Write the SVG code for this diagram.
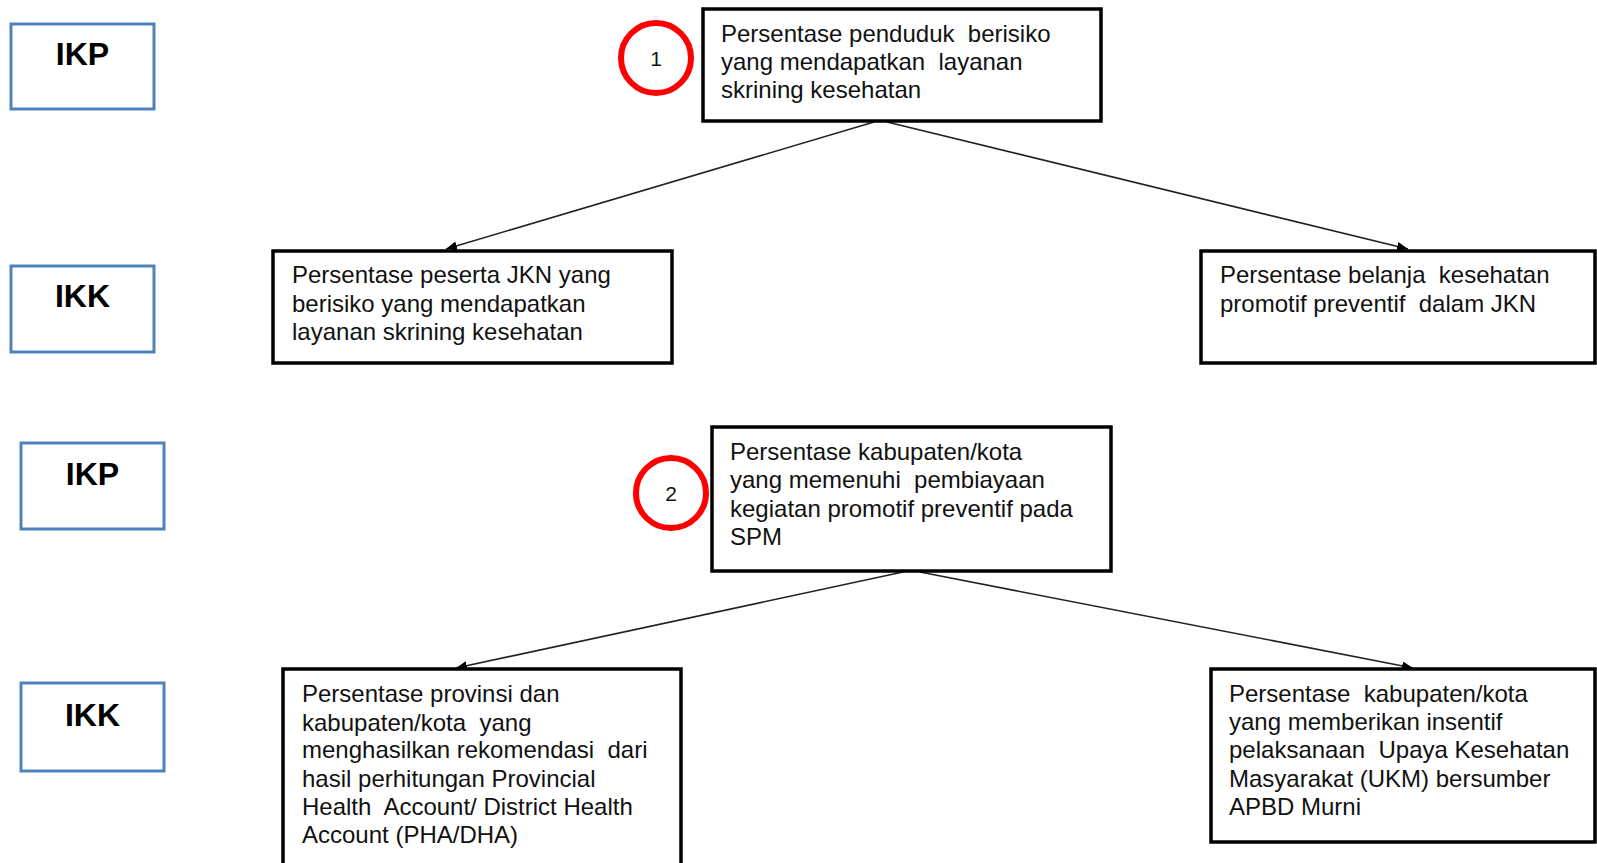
<svg xmlns="http://www.w3.org/2000/svg" width="1597" height="863" viewBox="0 0 1597 863">
<style>
.lbl{fill:#fff;stroke:#4F81BD;stroke-width:3}
.lt{font-family:"Liberation Sans",Arial,sans-serif;font-weight:bold;font-size:32px;fill:#000;text-anchor:middle}
.box{fill:#fff;stroke:#000;stroke-width:3.5}
.t{font-family:"Liberation Sans",Arial,sans-serif;font-size:24px;fill:#111;white-space:pre}
.num{fill:none;stroke:#FF0000;stroke-width:6}
.nt{font-family:"Liberation Sans",Arial,sans-serif;font-size:21px;fill:#111;text-anchor:middle}
.con{fill:none;stroke:#222;stroke-width:1.6}
</style>
<defs>
<marker id="ah" markerUnits="userSpaceOnUse" markerWidth="12" markerHeight="10" refX="11" refY="4.5" orient="auto">
<path d="M0,0 L11,4.5 L0,9 z" fill="#000"/>
</marker>
</defs>
<rect width="1597" height="863" fill="#fff"/>
<g id="connectors">
<line class="con" x1="874" y1="122" x2="446" y2="249" marker-end="url(#ah)"/>
<line class="con" x1="887" y1="122" x2="1408" y2="249" marker-end="url(#ah)"/>
<line class="con" x1="903" y1="572" x2="456" y2="668" marker-end="url(#ah)"/>
<line class="con" x1="920" y1="572" x2="1413" y2="668" marker-end="url(#ah)"/>
</g>
<g id="ikp1"><rect class="lbl" x="11" y="24" width="143" height="85"/><text class="lt" x="82.5" y="65">IKP</text></g>
<g id="ikk1"><rect class="lbl" x="11" y="266" width="143" height="86"/><text class="lt" x="82.5" y="307">IKK</text></g>
<g id="ikp2"><rect class="lbl" x="21" y="443" width="143" height="86"/><text class="lt" x="92.5" y="485">IKP</text></g>
<g id="ikk2"><rect class="lbl" x="21" y="683" width="143" height="88"/><text class="lt" x="92.5" y="726">IKK</text></g>
<g id="badge1"><circle class="num" cx="656" cy="58" r="35"/><text class="nt" x="656" y="66">1</text></g>
<g id="badge2"><circle class="num" cx="671" cy="493" r="35"/><text class="nt" x="671" y="501">2</text></g>
<g id="n1"><rect class="box" x="703" y="9" width="398" height="112"/>
<text class="t" x="721" y="42">Persentase penduduk  berisiko</text>
<text class="t" x="721" y="70">yang mendapatkan  layanan</text>
<text class="t" x="721" y="98">skrining kesehatan</text></g>
<g id="n2"><rect class="box" x="273" y="251" width="399" height="112"/>
<text class="t" x="292" y="283">Persentase peserta JKN yang</text>
<text class="t" x="292" y="312">berisiko yang mendapatkan</text>
<text class="t" x="292" y="340">layanan skrining kesehatan</text></g>
<g id="n3"><rect class="box" x="1201" y="251" width="394" height="112"/>
<text class="t" x="1220" y="283">Persentase belanja  kesehatan</text>
<text class="t" x="1220" y="312">promotif preventif  dalam JKN</text></g>
<g id="n4"><rect class="box" x="712" y="427" width="399" height="144"/>
<text class="t" x="730" y="460">Persentase kabupaten/kota</text>
<text class="t" x="730" y="488">yang memenuhi  pembiayaan</text>
<text class="t" x="730" y="517">kegiatan promotif preventif pada</text>
<text class="t" x="730" y="545">SPM</text></g>
<g id="n5"><rect class="box" x="283" y="669" width="398" height="196"/>
<text class="t" x="302" y="702">Persentase provinsi dan</text>
<text class="t" x="302" y="731">kabupaten/kota  yang</text>
<text class="t" x="302" y="758">menghasilkan rekomendasi  dari</text>
<text class="t" x="302" y="787">hasil perhitungan Provincial</text>
<text class="t" x="302" y="815">Health  Account/ District Health</text>
<text class="t" x="302" y="843">Account (PHA/DHA)</text></g>
<g id="n6"><rect class="box" x="1211" y="669" width="384" height="173"/>
<text class="t" x="1229" y="702">Persentase  kabupaten/kota</text>
<text class="t" x="1229" y="730">yang memberikan insentif</text>
<text class="t" x="1229" y="758">pelaksanaan  Upaya Kesehatan</text>
<text class="t" x="1229" y="787">Masyarakat (UKM) bersumber</text>
<text class="t" x="1229" y="815">APBD Murni</text></g>
</svg>
